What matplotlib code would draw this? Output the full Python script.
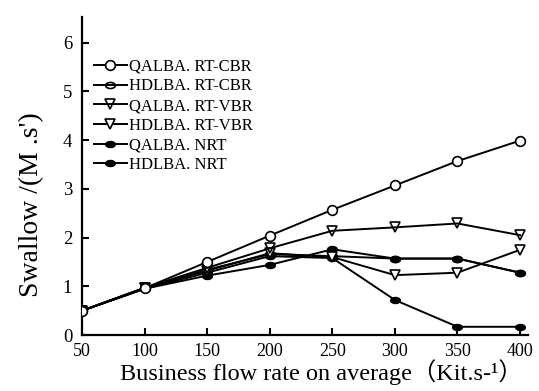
#!/usr/bin/env python3

import numpy as np
import matplotlib
matplotlib.use('Agg')
import matplotlib.pyplot as plt
from matplotlib.path import Path

plt.rcParams['font.family'] = ['Liberation Serif', 'Noto Sans CJK SC', 'DejaVu Sans']

rate = [50, 100, 150, 200, 250, 300, 350, 400]
qalba_rt_cbr = [0.5, 0.96, 1.5, 2.04, 2.57, 3.07, 3.57, 3.99]
hdlba_rt_cbr = [0.5, 0.96, 1.34, 1.66, 1.62, 1.57, 1.57, 1.28]
qalba_rt_vbr = [0.5, 0.97, 1.38, 1.78, 2.14, 2.21, 2.29, 2.05]
hdlba_rt_vbr = [0.5, 0.97, 1.32, 1.68, 1.6, 1.23, 1.28, 1.75]
qalba_nrt = [0.5, 0.95, 1.22, 1.44, 1.76, 1.57, 1.57, 1.28]
hdlba_nrt = [0.5, 0.95, 1.28, 1.62, 1.58, 0.72, 0.17, 0.17]

# flattened ellipse marker
t = np.linspace(0, 2 * np.pi, 40)
ellipse = Path(np.column_stack([np.cos(t), 0.62 * np.sin(t)]), closed=True)

fig = plt.figure(figsize=(5.39, 3.91), dpi=100)
ax = fig.add_axes([0.152, 0.143, 0.828, 0.814])

lw = 1.4
ax.plot(rate, hdlba_nrt, color='black', lw=lw, marker=ellipse, ms=7,
        mfc='black', mec='black', label='HDLBA. NRT', zorder=3)
ax.plot(rate, qalba_nrt, color='black', lw=lw, marker=ellipse, ms=7,
        mfc='black', mec='black', label='QALBA. NRT', zorder=3)
ax.plot(rate, hdlba_rt_cbr, color='black', lw=lw, marker=ellipse, ms=7,
        mfc='none', mec='black', mew=1.2, label='HDLBA. RT-CBR', zorder=3)
ax.plot(rate, hdlba_rt_vbr, color='black', lw=lw, marker='v', ms=7.5,
        mfc='white', mec='black', mew=1.2, label='HDLBA. RT-VBR', zorder=4)
ax.plot(rate, qalba_rt_vbr, color='black', lw=lw, marker='v', ms=7.5,
        mfc='none', mec='black', mew=1.2, label='QALBA. RT-VBR', zorder=4)
ax.plot(rate, qalba_rt_cbr, color='black', lw=lw, marker='o', ms=7,
        mfc='white', mec='black', mew=1.2, label='QALBA. RT-CBR', zorder=5)

ax.set_xlim(50, 406.5)
ax.set_ylim(0, 6.53)
ax.set_xticks(rate)
ax.set_yticks(range(0, 7))

for s in ['top', 'right']:
  ax.spines[s].set_visible(False)
for s in ['left', 'bottom']:
  ax.spines[s].set_linewidth(1.6)

ax.tick_params(axis='both', direction='in', length=5, width=1.5, color='black')
ax.tick_params(axis='x', labelsize=13, pad=6)
ax.tick_params(axis='y', labelsize=13.5, pad=7)

ax.set_xlabel('Business flow rate on average（Kit.s-¹）', fontsize=17.5)
ax.xaxis.set_label_coords(0.536, -0.075)
ax.set_ylabel("Swallow /(M .s')", fontsize=20)
ax.yaxis.set_label_coords(-0.085, 0.41)

handles, labels = ax.get_legend_handles_labels()
order = ['QALBA. RT-CBR', 'HDLBA. RT-CBR', 'QALBA. RT-VBR', 'HDLBA. RT-VBR', 'QALBA. NRT', 'HDLBA. NRT']
hmap = dict(zip(labels, handles))
ax.legend([hmap[k] for k in order], order, loc='upper left', bbox_to_anchor=(0.0, 0.905),
          frameon=False, fontsize=12, handlelength=2.0, handletextpad=0.15,
          labelspacing=0.22, borderaxespad=0.3)

fig.savefig('out.png', dpi=100)
